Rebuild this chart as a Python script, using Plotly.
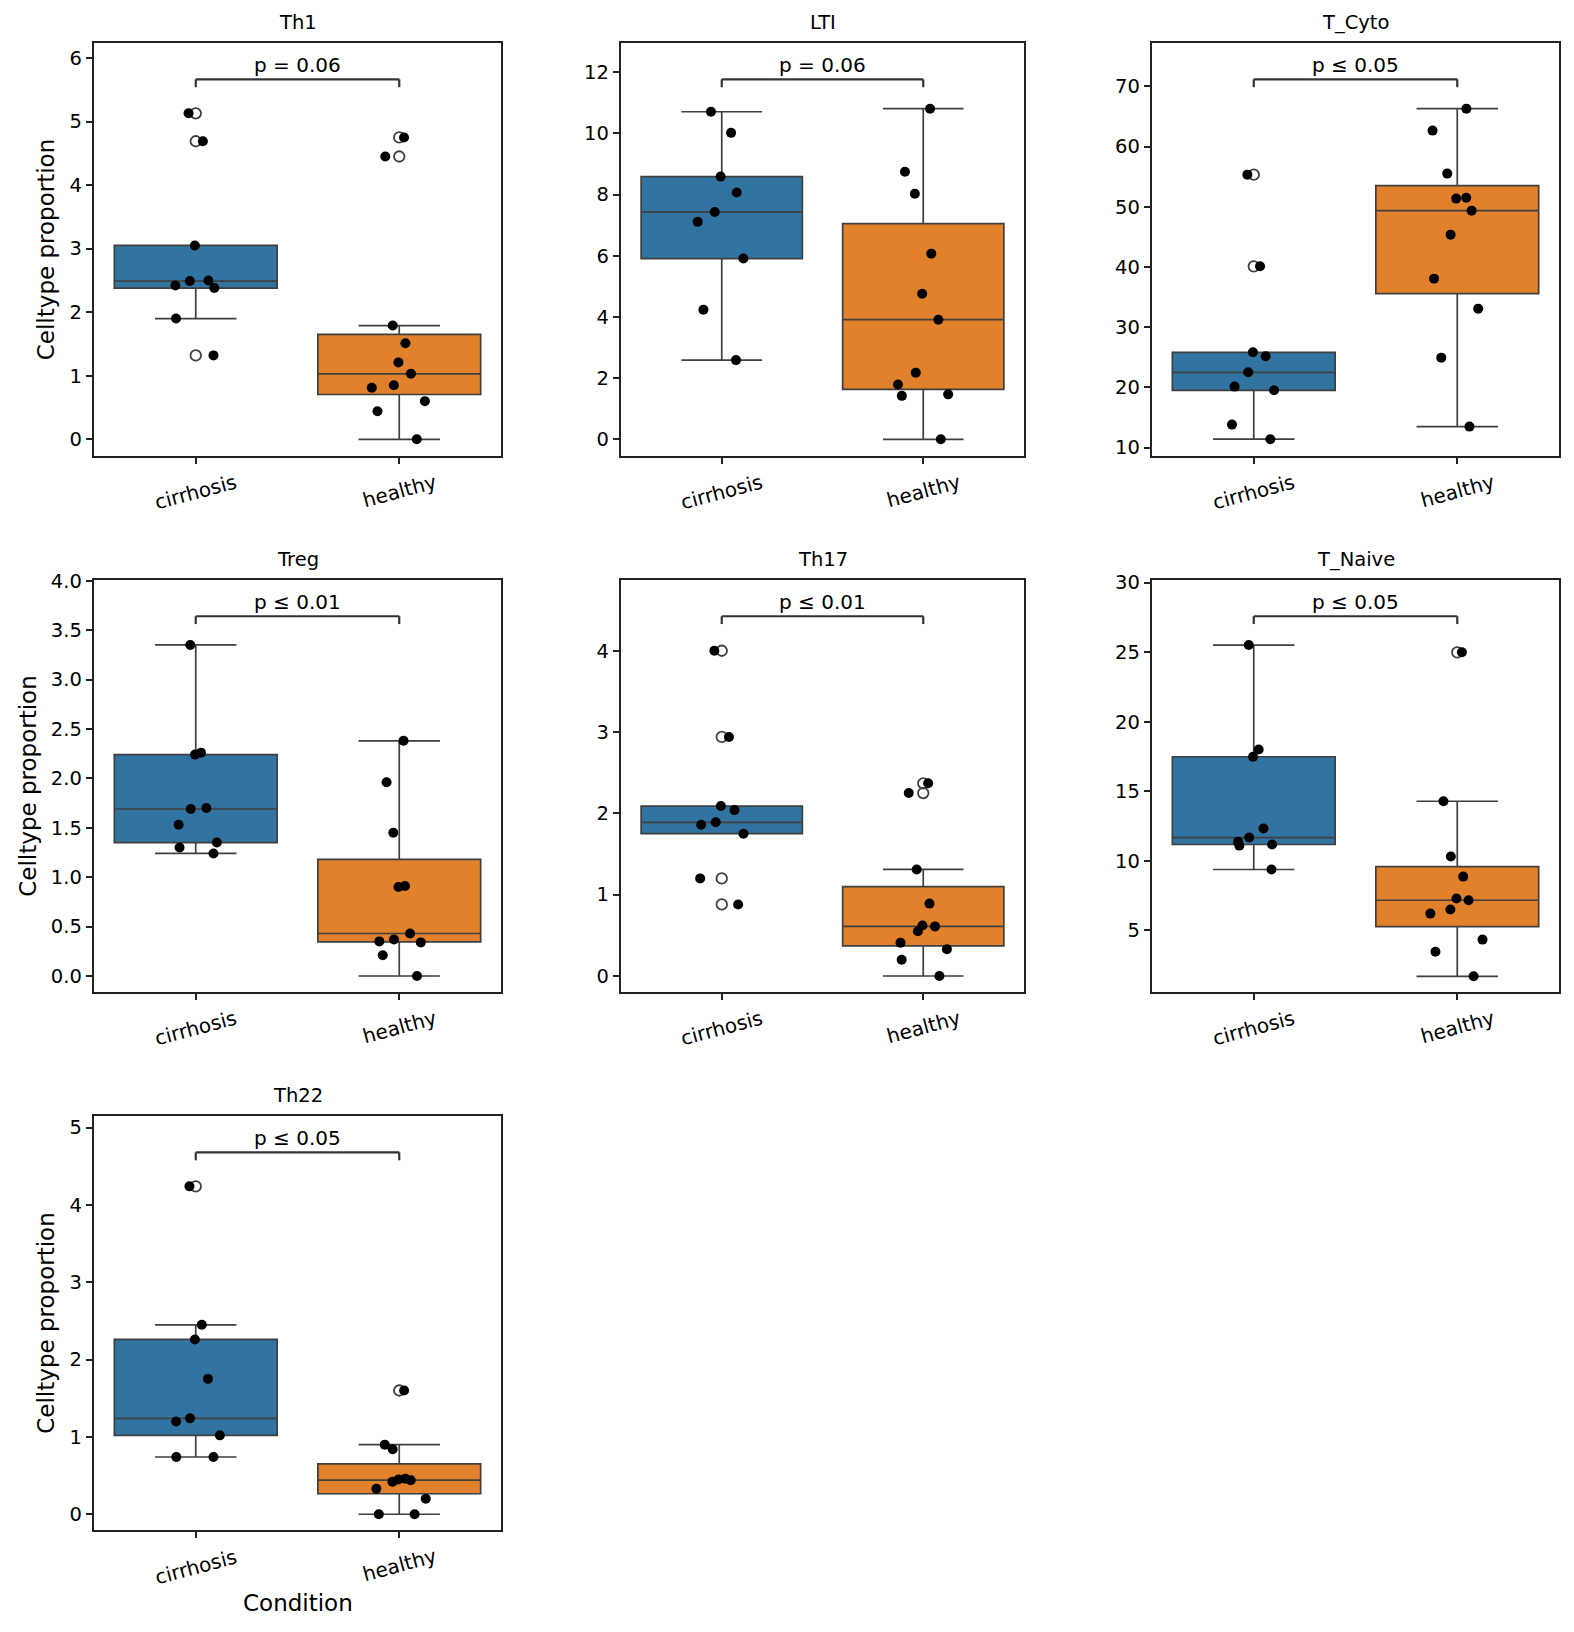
import plotly.graph_objects as go

# data
conditions = ["cirrhosis", "healthy"]
celltypes = ["Th1", "LTI", "T_Cyto", "Treg", "Th17", "T_Naive", "Th22"]
p_labels = ["p = 0.06", "p = 0.06", "p ≤ 0.05", "p ≤ 0.01", "p ≤ 0.01", "p ≤ 0.05", "p ≤ 0.05"]

th1_cirrhosis = [5.13, 4.69, 3.05, 2.50, 2.49, 2.42, 2.38, 1.90, 1.32]
th1_healthy = [4.75, 4.45, 1.79, 1.51, 1.21, 1.03, 0.85, 0.81, 0.60, 0.44, 0.00]
lti_cirrhosis = [10.71, 10.02, 8.59, 8.07, 7.43, 7.11, 5.91, 4.24, 2.59]
lti_healthy = [10.81, 8.75, 8.03, 6.07, 4.76, 3.91, 2.18, 1.79, 1.47, 1.42, 0.00]
tcyto_cirrhosis = [55.33, 40.11, 25.83, 25.17, 22.51, 20.13, 19.52, 13.82, 11.40]
tcyto_healthy = [66.29, 62.64, 55.50, 51.50, 51.35, 49.35, 45.37, 38.06, 33.08, 24.94, 13.49]
treg_cirrhosis = [3.35, 2.26, 2.24, 1.70, 1.69, 1.53, 1.35, 1.30, 1.24]
treg_healthy = [2.38, 1.96, 1.45, 0.91, 0.90, 0.43, 0.37, 0.35, 0.34, 0.21, 0.00]
th17_cirrhosis = [4.00, 2.94, 2.09, 2.04, 1.89, 1.86, 1.75, 1.20, 0.88]
th17_healthy = [2.37, 2.25, 1.31, 0.89, 0.62, 0.61, 0.55, 0.41, 0.33, 0.20, 0.00]
tnaive_cirrhosis = [25.51, 18.00, 17.48, 12.32, 11.67, 11.36, 11.17, 11.09, 9.37]
tnaive_healthy = [24.99, 14.28, 10.30, 8.86, 7.28, 7.16, 6.49, 6.20, 4.33, 3.46, 1.69]
th22_cirrhosis = [4.24, 2.45, 2.26, 1.75, 1.24, 1.20, 1.02, 0.74, 0.74]
th22_healthy = [1.60, 0.90, 0.84, 0.46, 0.45, 0.44, 0.42, 0.33, 0.20, 0.00, 0.00]

values = [
    (th1_cirrhosis, th1_healthy),
    (lti_cirrhosis, lti_healthy),
    (tcyto_cirrhosis, tcyto_healthy),
    (treg_cirrhosis, treg_healthy),
    (th17_cirrhosis, th17_healthy),
    (tnaive_cirrhosis, tnaive_healthy),
    (th22_cirrhosis, th22_healthy),
]

# axis settings per panel
y_ranges = [[-0.263, 6.236], [-0.546, 12.958], [8.61, 77.19], [-0.162, 4.007],
            [-0.197, 4.87], [0.561, 30.19], [-0.204, 5.15]]
y_dticks = [1, 2, 10, 0.5, 1, 5, 1]
y_formats = ["", "", "", ".1f", "", "", ""]

W, H = 1574, 1632
col_px = [(94, 501), (621, 1024), (1152, 1559)]
row_px = [(43, 456), (580, 992), (1116, 1530)]

colors = ["#3274a1", "#e1812c"]
edge = "#3f3f3f"
spine = "#222222"
FONT = "DejaVu Sans"

fig = go.Figure()
layout = dict(
    width=W, height=H, margin=dict(l=0, r=0, t=0, b=0, pad=0, autoexpand=False),
    paper_bgcolor="white", plot_bgcolor="white", showlegend=False,
    boxmode="overlay", font=dict(family=FONT, size=19, color="black"),
)
annotations = []
shapes = []

for i, name in enumerate(celltypes):
    r, c = divmod(i, 3)
    sfx = "" if i == 0 else str(i + 1)
    xa, ya = "x" + sfx, "y" + sfx
    (x0, x1), (y0, y1) = col_px[c], row_px[r]

    for j, cond in enumerate(conditions):
        vals = values[i][j]
        # box with open-circle fliers
        fig.add_trace(go.Box(
            x=[cond] * len(vals), y=vals, xaxis=xa, yaxis=ya,
            width=0.8, whiskerwidth=0.5, quartilemethod="inclusive",
            fillcolor=colors[j], line=dict(color=edge, width=1.7),
            boxpoints="outliers", jitter=0, pointpos=0,
            marker=dict(symbol="circle-open", size=10.5, color=edge,
                        line=dict(width=1.8, color=edge)),
        ))
    for j, cond in enumerate(conditions):
        vals = values[i][j]
        # strip points on top
        fig.add_trace(go.Box(
            x=[cond] * len(vals), y=vals, xaxis=xa, yaxis=ya,
            width=0.8, quartilemethod="inclusive",
            fillcolor="rgba(0,0,0,0)", line=dict(color="rgba(0,0,0,0)", width=0),
            boxpoints="all", jitter=0.42, pointpos=0,
            marker=dict(color="black", size=10),
        ))

    layout["xaxis" + sfx] = dict(
        domain=[x0 / W, x1 / W], anchor=ya, type="category", automargin=False,
        categoryorder="array", categoryarray=conditions, range=[-0.5, 1.5],
        showline=True, mirror=True, linecolor=spine, linewidth=1.5,
        ticks="outside", ticklen=6.5, tickwidth=1.5, tickcolor=spine,
        showticklabels=False, showgrid=False, zeroline=False, fixedrange=True,
    )
    ydict = dict(
        domain=[1 - y1 / H, 1 - y0 / H], anchor=xa, range=y_ranges[i], automargin=False,
        dtick=y_dticks[i], tick0=0, tickformat=y_formats[i],
        showline=True, mirror=True, linecolor=spine, linewidth=1.5,
        ticks="outside", ticklen=6.5, tickwidth=1.5, tickcolor=spine,
        tickfont=dict(size=19.5), showgrid=False, zeroline=False, fixedrange=True,
    )
    if c == 0:
        ydict["title"] = dict(text="Celltype proportion", font=dict(size=23), standoff=8)
    layout["yaxis" + sfx] = ydict

    # panel title
    annotations.append(dict(
        text=name, xref=xa + " domain", yref=ya + " domain", x=0.5, y=1.018,
        xanchor="center", yanchor="bottom", showarrow=False, font=dict(size=19.5),
    ))
    # rotated category labels
    for cond in conditions:
        annotations.append(dict(
            text=cond, xref=xa, yref=ya + " domain", x=cond, y=-0.028,
            xanchor="center", yanchor="top", textangle=-15, showarrow=False,
            font=dict(size=20),
        ))
    # significance bracket
    lo, hi = 0.893, 0.912
    bl = dict(color="#333333", width=2.2)
    shapes.append(dict(type="line", xref=xa, yref=ya + " domain", x0=conditions[0], x1=conditions[0], y0=lo, y1=hi, line=bl))
    shapes.append(dict(type="line", xref=xa, yref=ya + " domain", x0=conditions[1], x1=conditions[1], y0=lo, y1=hi, line=bl))
    shapes.append(dict(type="line", xref=xa, yref=ya + " domain", x0=conditions[0], x1=conditions[1], y0=hi, y1=hi, line=bl))
    annotations.append(dict(
        text=p_labels[i], xref=xa + " domain", yref=ya + " domain", x=0.5, y=0.913,
        xanchor="center", yanchor="bottom", showarrow=False, font=dict(size=20),
    ))

# x axis label only under the last panel
annotations.append(dict(
    text="Condition", xref="x7 domain", yref="y7 domain", x=0.5, y=-0.14,
    xanchor="center", yanchor="top", showarrow=False, font=dict(size=23),
))

layout["annotations"] = annotations
layout["shapes"] = shapes
fig.update_layout(**layout)

fig.write_html("out.html", config={"displayModeBar": False},
               post_script="document.body.style.margin='0';")
